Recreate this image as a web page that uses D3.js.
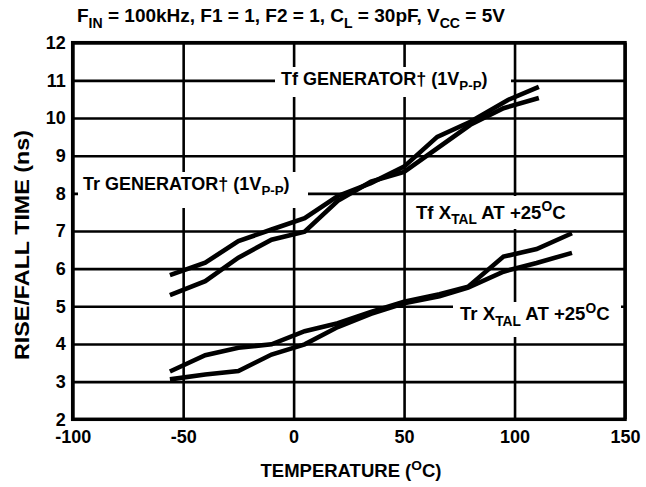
<!DOCTYPE html>
<html><head><meta charset="utf-8">
<script src="https://cdn.jsdelivr.net/npm/d3@7/dist/d3.min.js"></script>
<style>
html,body{margin:0;padding:0;background:#fff;}
svg{display:block;font-family:"Liberation Sans",Arial,Helvetica,sans-serif;font-weight:bold;}
</style></head>
<body><svg id="chart" width="646" height="487"></svg>
<script>
// ---- data ----
const xTicks = [-100, -50, 0, 50, 100, 150];
const yTicks = [2, 3, 4, 5, 6, 7, 8, 9, 10, 11, 12];
// Generator curves (1 Vp-p)
const genATemp  = [-56, -40, -25, -10, 5, 20, 35, 50, 65, 80, 97, 111];
const genAValue = [5.83, 6.16, 6.73, 7.04, 7.34, 7.93, 8.27, 8.71, 9.5, 9.9, 10.48, 10.83];
const genBTemp  = [-56, -40, -25, -10, 5, 20, 35, 50, 80, 95, 111];
const genBValue = [5.30, 5.67, 6.29, 6.77, 6.98, 7.8, 8.31, 8.57, 9.82, 10.26, 10.53];
// Crystal curves at +25C
const xtalATemp  = [-56, -40, -25, -10, 5, 20, 35, 50, 66, 79, 95, 110, 126];
const xtalAValue = [3.27, 3.70, 3.90, 3.99, 4.34, 4.55, 4.85, 5.12, 5.32, 5.52, 6.32, 6.52, 6.94];
const xtalBTemp  = [-56, -40, -25, -10, 5, 20, 35, 50, 66, 79, 95, 110, 126];
const xtalBValue = [3.06, 3.19, 3.28, 3.72, 3.99, 4.45, 4.8, 5.08, 5.27, 5.5, 5.92, 6.15, 6.42];

const series = [
  {t: genATemp, v: genAValue},
  {t: genBTemp, v: genBValue},
  {t: xtalATemp, v: xtalAValue},
  {t: xtalBTemp, v: xtalBValue}
];

// ---- layout ----
const svg = d3.select("#chart");
const L = 72.7, R = 625, T = 42.7, B = 419.3;
const x = d3.scaleLinear().domain([-100, 150]).range([L, R]);
const y = d3.scaleLinear().domain([2, 12]).range([B, T]);
const FONT = "'Liberation Sans',Arial,sans-serif";

// grid
svg.append("g").attr("transform", `translate(0,${B})`)
  .call(d3.axisBottom(x).tickValues(xTicks).tickSize(-(B - T)).tickFormat(""))
  .call(g => g.select(".domain").remove())
  .selectAll("line").attr("stroke", "#000").attr("stroke-width", 2.6);
svg.append("g").attr("transform", `translate(${L},0)`)
  .call(d3.axisLeft(y).tickValues(yTicks).tickSize(-(R - L)).tickFormat(""))
  .call(g => g.select(".domain").remove())
  .selectAll("line").attr("stroke", "#000").attr("stroke-width", 2.6);
svg.append("rect").attr("x", L).attr("y", T).attr("width", R - L).attr("height", B - T)
  .attr("fill", "none").attr("stroke", "#000").attr("stroke-width", 3.5);

// tick labels
svg.append("g").attr("transform", `translate(0,${B + 11})`)
  .call(d3.axisBottom(x).tickValues(xTicks).tickSize(0).tickPadding(0).tickFormat(d => String(d)))
  .call(g => g.select(".domain").remove())
  .selectAll("text").attr("font-size", 18).attr("font-weight", "bold").attr("fill", "#000")
  .attr("font-family", FONT);
svg.append("g").attr("transform", `translate(${L - 7},0)`)
  .call(d3.axisLeft(y).tickValues(yTicks).tickSize(0).tickPadding(0).tickFormat(d => String(d)))
  .call(g => g.select(".domain").remove())
  .selectAll("text").attr("font-size", 18).attr("font-weight", "bold").attr("fill", "#000")
  .attr("font-family", FONT);

// label boxes (cover the grid)
function box(x0, y0, x1, y1) {
  svg.append("rect").attr("x", x0).attr("y", y0).attr("width", x1 - x0).attr("height", y1 - y0).attr("fill", "#fff");
}
box(275, 67, 511, 97);
box(78, 172, 308, 208);
box(409, 196, 621, 229);
box(453, 302, 621, 337);

// rich text helper: parts = [[text, 'n'|'sub'|'sup'], ...]
function rich(g, px, py, parts, size, anchor) {
  const t = g.append("text").attr("x", px).attr("y", py).attr("font-size", size)
    .attr("text-anchor", anchor || "start").attr("fill", "#000");
  let shift = 0;
  parts.forEach(([s, k]) => {
    const target = k === "sub" ? size * 0.3 : k === "sup" ? -size * 0.38 : 0;
    t.append("tspan").attr("dy", target - shift)
      .attr("font-size", k === "n" ? size : size * 0.74).text(s);
    shift = target;
  });
  return t;
}

// curves
const line = d3.line().x(d => x(d[0])).y(d => y(d[1]));
series.forEach(s => {
  svg.append("path").datum(s.t.map((t, i) => [t, s.v[i]]))
    .attr("d", line).attr("fill", "none").attr("stroke", "#000")
    .attr("stroke-width", 4.6).attr("stroke-linejoin", "miter");
});

// annotations
rich(svg, 281, 85, [["Tf GENERATOR† (1V", "n"], ["P-P", "sub"], [")", "n"]], 18);
rich(svg, 83, 189.5, [["Tr GENERATOR† (1V", "n"], ["P-P", "sub"], [")", "n"]], 18);
rich(svg, 416, 218.5, [["Tf X", "n"], ["TAL", "sub"], [" AT +25", "n"], ["O", "sup"], ["C", "n"]], 18.6);
rich(svg, 460, 320, [["Tr X", "n"], ["TAL", "sub"], [" AT +25", "n"], ["O", "sup"], ["C", "n"]], 18.6);

// title
rich(svg, 77, 22, [["F", "n"], ["IN", "sub"], [" = 100kHz, F1 = 1, F2 = 1, C", "n"], ["L", "sub"],
  [" = 30pF, V", "n"], ["CC", "sub"], [" = 5V", "n"]], 19);

// axis titles
rich(svg, 351, 477, [["TEMPERATURE (", "n"], ["O", "sup"], ["C)", "n"]], 18.5, "middle");
svg.append("text").attr("transform", "translate(29,245) rotate(-90)")
  .attr("text-anchor", "middle").attr("font-size", 20).attr("fill", "#000")
  .attr("textLength", 230).attr("lengthAdjust", "spacingAndGlyphs").text("RISE/FALL TIME (ns)");
</script></body></html>
